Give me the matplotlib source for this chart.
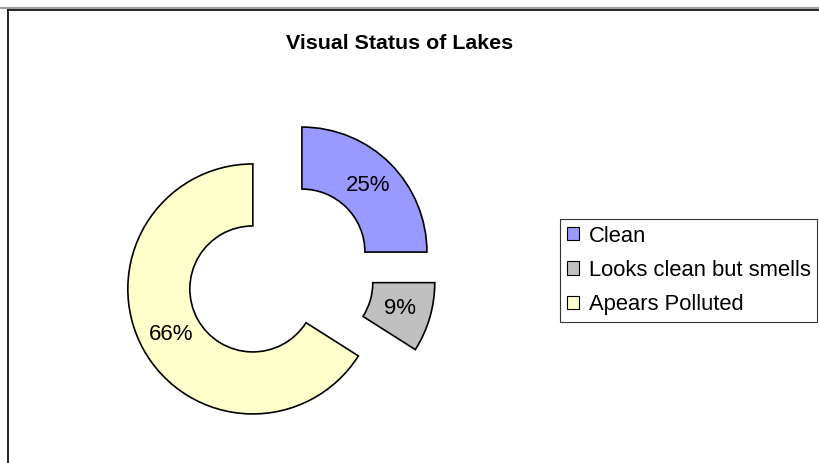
import matplotlib.pyplot as plt
from matplotlib.lines import Line2D

plt.rcParams['font.family'] = ['Liberation Sans', 'DejaVu Sans']

labels = ["Clean", "Looks clean but smells", "Apears Polluted"]
values = [25, 9, 66]
colors = ["#9999FF", "#C0C0C0", "#FFFFCC"]

fig = plt.figure(figsize=(8.19, 4.63), dpi=100)
ax = fig.add_axes([0, 0, 1, 1])

# pie drawn in pixel-like data units (radius 125 px, wedges pushed out ~31 px)
wedges, texts, autotexts = ax.pie(
    values, colors=colors, startangle=90, counterclock=False,
    center=(280, 463 - 274), radius=125, explode=[31] * 3,
    autopct='%1.0f%%', pctdistance=0.75,
    wedgeprops=dict(width=62, edgecolor='black', linewidth=1.2),
    textprops=dict(fontsize=16, color='black'))

ax.set_xlim(0, 819)
ax.set_ylim(0, 463)
ax.set_aspect('auto')
ax.axis('off')

fig.text(400 / 819, 1 - 43.5 / 463, "Visual Status of Lakes", ha='center', va='center',
         fontsize=15.4, fontweight='bold')

# chart frame (only top and left edges visible)
fig.add_artist(Line2D([0, 1], [1 - 8 / 463] * 2, color='#a0a0a0', lw=1.5))
fig.add_artist(Line2D([8 / 819, 1], [1 - 9.5 / 463] * 2, color='black', lw=1.2))
fig.add_artist(Line2D([8 / 819] * 2, [0, 1 - 9.5 / 463], color='black', lw=1.2))

leg = ax.legend(wedges, labels, loc='upper left',
                bbox_to_anchor=(560 / 819, 1 - 219 / 463), bbox_transform=fig.transFigure,
                borderaxespad=0, fontsize=15.8, fancybox=False, frameon=True,
                handlelength=0.55, handleheight=0.55, handletextpad=0.45,
                labelspacing=0.6, borderpad=0.3)
leg.get_frame().set_edgecolor('black')
leg.get_frame().set_linewidth(0.8)
for h in leg.legend_handles:
    h.set_linewidth(0.8)

fig.savefig("out.png", dpi=100)
